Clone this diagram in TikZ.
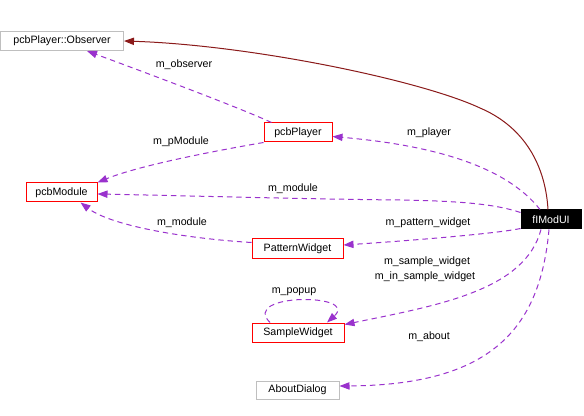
\documentclass[tikz,border=0pt]{standalone}
\usepackage{fontspec}
\setmainfont{Liberation Sans}
\usetikzlibrary{arrows.meta,calc}
\definecolor{edgep}{HTML}{9A32CD}
\definecolor{edger}{HTML}{8B1A1A}
\definecolor{greyb}{HTML}{BFBFBF}
\begin{document}
\begin{tikzpicture}[x=0.75pt,y=-0.75pt,
  lbl/.style={font=\fontsize{8}{9.6}\selectfont,inner sep=0pt},
  cls/.style={draw=red,line width=0.75pt,fill=white,font=\fontsize{8}{9.6}\selectfont,inner sep=0pt,minimum height=14.25pt},
  ext/.style={cls,draw=greyb},
  cur/.style={cls,draw=black,fill=black,text=white},
  use/.style={draw=edgep,line width=0.75pt,dash pattern=on 4pt off 3pt,-{Triangle[length=7.5pt,width=5.5pt,fill=edgep,sep=0pt]}},
  inh/.style={draw=edger,line width=0.75pt,-{Triangle[length=7.5pt,width=5.5pt,fill=edger]}}]
\useasboundingbox[fill=white] (0,0) rectangle (584,416);
\node[ext,minimum width=92.25pt] (obs) at (62,41) {pcbPlayer::Observer};
\node[cls,minimum width=51pt] (ply) at (298,132.5) {pcbPlayer};
\node[cls,minimum width=53.25pt] (pm) at (61.5,192.5) {pcbModule};
\node[cur,minimum width=45pt] (fim) at (551,219.5) {fIModUI};
\node[cls,minimum width=68.25pt] (pw) at (297.5,248.5) {PatternWidget};
\node[cls,minimum width=69pt] (sw) at (298,332.5) {SampleWidget};
\node[ext,minimum width=62.25pt,minimum height=13.5pt] (ad) at (297.5,390) {AboutDialog};
% inheritance
\draw[inh] ($(fim.north)+(-3,0)$) .. controls (545,160) and (520,125) .. (480,108)
  .. controls (420,80) and (250,45) .. (obs.east);
% usage
\draw[use] ($(ply.north west)+(8,0)$) .. controls (240,108) and (160,78) .. ($(obs.south)+(25,0)$);
\draw[use] ($(fim.north)+(-11,0)$) .. controls (505,165) and (430,145) .. ($(ply.east)+(0,4)$);
\draw[use] ($(fim.west)+(0,-7)$) .. controls (495,204) and (460,201) .. (400,200)
  .. controls (300,199) and (200,196) .. ($(pm.east)+(0,1.5)$);
\draw[use] ($(fim.south west)+(0,-1)$) .. controls (500,233) and (420,240) .. ($(pw.east)+(0,-3.5)$);
\draw[use] ($(pw.west)+(0,-6)$) .. controls (180,238) and (110,225) .. ($(pm.south)+(19,0)$);
\draw[use] (ply.south west) .. controls (220,150) and (140,165) .. (pm.north east);
\draw[use] ($(fim.south)+(-10,0)$) .. controls (525,290) and (440,305) .. ($(sw.east)+(0,-8)$);
\draw[use] ($(fim.south)+(-2,0)$) .. controls (540,330) and (490,385) .. ($(ad.east)+(0,-4)$);
\draw[use] ($(sw.north)+(-28,0)$) .. controls (240,293) and (360,293) .. ($(sw.north)+(29,0)$);
% labels
\node[lbl] (l1) at (184,65) {m\_observer};
\node[lbl] (l2) at (181,142) {m\_pModule};
\node[lbl] (l3) at (429,133) {m\_player};
\node[lbl] (l4) at (293,189) {m\_module};
\node[lbl] (l5) at (428,223) {m\_pattern\_widget};
\node[lbl] (l6) at (182,223) {m\_module};
\node[lbl] (l7) at (427,262) {m\_sample\_widget};
\node[lbl] (l8) at (425,277) {m\_in\_sample\_widget};
\node[lbl] (l9) at (294,292) {m\_popup};
\node[lbl] (l10) at (429,337) {m\_about};
\end{tikzpicture}
\end{document}
